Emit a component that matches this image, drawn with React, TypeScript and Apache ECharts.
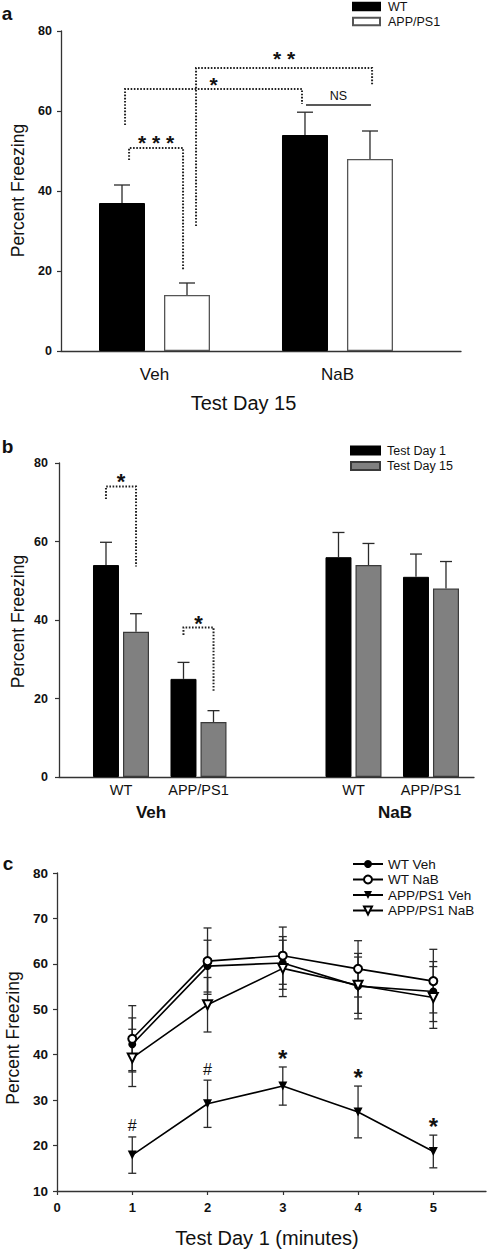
import React, { useEffect, useRef } from 'react';
import * as echarts from 'echarts';

// ---------- Panel a : Test Day 15 ----------
const A_CATEGORIES = ['Veh', 'NaB'];
const A_POS = [0, 1];
const A_WT = [37, 54];
const A_WT_ERR = [4.5, 5.7];
const A_APP = [14, 48];
const A_APP_ERR = [3, 7];
// [xLeft, yLeftStart, yTop, xRight, yRightEnd, labelY, dotted]
const A_BRACKETS = [
  [-0.139, 47.75, 50.75, 0.156, 20.25, 53.25, 1],
  [-0.161, 56.5, 65.5, 0.806, 61.75, 67.75, 1],
  [0.227, 31.25, 70.75, 1.189, 66.5, 74.25, 1],
  [0.828, 61.5, 61.5, 1.183, 61.5, 63.75, 0],
];
const A_BRACKET_LABELS = ['* * *', '*', '* *', 'NS'];

// ---------- Panel b : Test Day 1 vs Test Day 15 ----------
const B_GROUPS = ['WT', 'APP/PS1', 'WT', 'APP/PS1'];
const B_POS = [0, 1, 3, 4];
const B_DAY1 = [54, 25, 56, 51];
const B_DAY1_ERR = [5.8, 4.2, 6.3, 5.8];
const B_DAY15 = [37, 14, 54, 48];
const B_DAY15_ERR = [4.6, 2.9, 5.5, 6.9];
const B_TREATMENTS = ['Veh', 'NaB'];
const B_BRACKETS = [
  [-0.194, 70.8, 74.0, 0.194, 53.6, 76.7, 1],
  [0.806, 36.2, 38.1, 1.194, 21.7, 40.5, 1],
];
const B_BRACKET_LABELS = ['*', '*'];

// ---------- Panel c : Test Day 1 time course ----------
const C_MINUTES = [1, 2, 3, 4, 5];
const C_X_TICKS = [0, 1, 2, 3, 4, 5];
const C_WT_VEH = [42.3, 59.5, 60.2, 55.1, 53.9];
const C_WT_VEH_ERR = [5.8, 5.7, 5.8, 7.2, 6.6];
const C_WT_NAB = [43.5, 60.6, 61.8, 58.9, 56.2];
const C_WT_NAB_ERR = [7.3, 7.3, 6.3, 6.2, 7.0];
const C_APP_VEH = [17.9, 29.2, 33.1, 27.4, 18.7];
const C_APP_VEH_ERR = [4.0, 5.2, 4.2, 5.7, 3.6];
const C_APP_NAB = [39.3, 51.0, 59.0, 55.3, 52.6];
const C_APP_NAB_ERR = [6.3, 6.0, 6.2, 6.2, 6.8];
const C_APP_VEH_MARKS = ['#', '#', '*', '*', '*'];

const FONT = 'Liberation Sans, Arial, Helvetica, sans-serif';
const AXIS_COLOR = '#333';
const INK = '#111';

function errorBars(offsetPx: number, capW: number, both: boolean) {
  return (params: any, api: any) => {
    const x = api.value(0);
    const y = api.value(1);
    const e = api.value(2);
    const top = api.coord([x, y + e]);
    const mid = api.coord([x, y]);
    const bot = api.coord([x, y - e]);
    const cx = mid[0] + offsetPx;
    const style = { stroke: '#2a2a2a', lineWidth: 1.3 };
    const children: any[] = [
      { type: 'line', shape: { x1: cx, y1: top[1], x2: cx, y2: both ? bot[1] : mid[1] }, style },
      { type: 'line', shape: { x1: cx - capW / 2, y1: top[1], x2: cx + capW / 2, y2: top[1] }, style },
    ];
    if (both) {
      children.push({ type: 'line', shape: { x1: cx - capW / 2, y1: bot[1], x2: cx + capW / 2, y2: bot[1] }, style });
    }
    return { type: 'group', children };
  };
}

function brackets(labels: string[], starSize: number, textSize: number) {
  return (params: any, api: any) => {
    const xl = api.value(0);
    const yl = api.value(1);
    const yt = api.value(2);
    const xr = api.value(3);
    const yr = api.value(4);
    const ly = api.value(5);
    const dotted = api.value(6) === 1;
    const p1 = api.coord([xl, yl]);
    const p2 = api.coord([xl, yt]);
    const p3 = api.coord([xr, yt]);
    const p4 = api.coord([xr, yr]);
    const lp = api.coord([(xl + xr) / 2, ly]);
    const label = labels[params.dataIndex];
    const isStar = label.indexOf('*') >= 0;
    const fs = isStar ? starSize : textSize;
    return {
      type: 'group',
      children: [
        {
          type: 'polyline',
          shape: { points: [p1, p2, p3, p4] },
          style: {
            stroke: '#222',
            fill: 'none',
            lineWidth: dotted ? 2 : 1.3,
            lineDash: dotted ? [1.6, 1.6] : null,
          },
        },
        {
          type: 'text',
          x: lp[0],
          y: lp[1] + (isStar ? fs * 0.23 : 0),
          style: {
            text: label,
            fontSize: fs,
            fontFamily: FONT,
            fontWeight: isStar ? 'bold' : 'normal',
            fill: INK,
            align: 'center',
            verticalAlign: 'middle',
          },
        },
      ],
    };
  };
}

function annotations(params: any, api: any) {
  const p = api.coord([api.value(0), api.value(1)]);
  const mark = C_APP_VEH_MARKS[params.dataIndex];
  const isStar = mark === '*';
  const fs = isStar ? 24 : 16;
  const gap = isStar ? 14.5 : 11;
  return {
    type: 'text',
    x: p[0],
    y: p[1] - gap + (isStar ? fs * 0.23 : 0),
    style: {
      text: mark,
      fontSize: fs,
      fontFamily: FONT,
      fontWeight: isStar ? 'bold' : 'normal',
      fill: INK,
      align: 'center',
      verticalAlign: 'middle',
    },
  };
}

const axisLine = { show: true, onZero: false, lineStyle: { color: AXIS_COLOR, width: 1.3 } };

function yAxisFor(gridIndex: number, min: number, max: number, interval: number, fontSize: number, margin: number) {
  return {
    type: 'value',
    gridIndex,
    min,
    max,
    interval,
    axisLine,
    axisTick: { show: true, inside: false, length: 4, lineStyle: { color: AXIS_COLOR, width: 1.2 } },
    axisLabel: { fontSize, color: INK, fontFamily: FONT, fontWeight: 'bold', margin },
    splitLine: { show: false },
  };
}

function buildOption() {
  const labelText = (text: string, x: number, y: number, size: number, bold = false, rotate = false) => ({
    type: 'text',
    x,
    y,
    rotation: rotate ? Math.PI / 2 : 0,
    style: {
      text,
      fontSize: size,
      fontFamily: FONT,
      fontWeight: bold ? 'bold' : 'normal',
      fill: INK,
      align: 'center',
      verticalAlign: 'middle',
    },
  });

  return {
    animation: false,
    backgroundColor: '#fff',
    textStyle: { fontFamily: FONT },
    grid: [
      { left: 61, top: 31, width: 400, height: 320 },
      { left: 59, top: 463, width: 415, height: 314 },
      { left: 57, top: 873, width: 429, height: 318 },
    ],
    xAxis: [
      {
        type: 'value',
        gridIndex: 0,
        min: -0.511,
        max: 1.675,
        axisLine,
        axisTick: { show: false },
        splitLine: { show: false },
        axisLabel: {
          customValues: A_POS,
          formatter: (v: number) => A_CATEGORIES[A_POS.indexOf(v)] ?? '',
          fontSize: 17,
          color: INK,
          fontFamily: FONT,
          margin: 15,
        },
      },
      {
        type: 'value',
        gridIndex: 1,
        min: -0.8,
        max: 4.555,
        axisLine,
        axisTick: { show: false },
        splitLine: { show: false },
        axisLabel: {
          customValues: B_POS,
          formatter: (v: number) => B_GROUPS[B_POS.indexOf(v)] ?? '',
          fontSize: 14.5,
          color: INK,
          fontFamily: FONT,
          margin: 5,
        },
      },
      {
        type: 'value',
        gridIndex: 2,
        min: 0,
        max: 5.7,
        interval: 1,
        axisLine,
        axisTick: { show: true, length: 4, customValues: C_X_TICKS, lineStyle: { color: AXIS_COLOR, width: 1.2 } },
        splitLine: { show: false },
        axisLabel: { customValues: C_X_TICKS, fontSize: 13, fontWeight: 'bold', color: INK, fontFamily: FONT, margin: 10 },
      },
    ],
    yAxis: [
      yAxisFor(0, 0, 80, 20, 12.5, 9),
      yAxisFor(1, 0, 80, 20, 12.5, 11),
      yAxisFor(2, 10, 80, 10, 13.5, 9),
    ],
    legend: [
      {
        left: 352,
        top: 0,
        padding: 0,
        orient: 'vertical',
        selectedMode: false,
        data: ['WT', 'APP/PS1'],
        icon: 'rect',
        itemWidth: 27,
        itemHeight: 7.5,
        itemGap: 2,
        textStyle: { fontSize: 12.5, lineHeight: 13, color: INK, fontFamily: FONT, padding: [0, 0, 0, 3] },
      },
      {
        left: 350,
        top: 444,
        padding: 0,
        orient: 'vertical',
        selectedMode: false,
        data: ['Test Day 1', 'Test Day 15'],
        icon: 'rect',
        itemWidth: 29,
        itemHeight: 8,
        itemGap: 2.5,
        textStyle: { fontSize: 12.5, lineHeight: 13, color: INK, fontFamily: FONT, padding: [0, 0, 0, 2] },
      },
      {
        left: 352,
        top: 857,
        padding: 0,
        orient: 'vertical',
        selectedMode: false,
        data: ['WT Veh', 'WT NaB', 'APP/PS1 Veh', 'APP/PS1 NaB'],
        itemWidth: 30,
        itemHeight: 10,
        itemGap: 1.5,
        textStyle: { fontSize: 13.5, lineHeight: 14, color: INK, fontFamily: FONT },
      },
    ],
    graphic: [
      labelText('a', 7, 13.5, 19, true),
      labelText('b', 7.5, 446, 19, true),
      labelText('c', 8, 863, 19, true),
      labelText('Percent Freezing', 17.5, 190.5, 17.5, false, true),
      labelText('Percent Freezing', 17.5, 621.5, 17.5, false, true),
      labelText('Percent Freezing', 13, 1038, 17.5, false, true),
      labelText('Test Day 15', 243.5, 403, 20),
      labelText(B_TREATMENTS[0], 151, 812.5, 17, true),
      labelText(B_TREATMENTS[1], 395, 812.5, 17, true),
      labelText('Test Day 1 (minutes)', 267, 1237.5, 20),
    ],
    series: [
      // panel a bars
      {
        type: 'bar',
        name: 'WT',
        xAxisIndex: 0,
        yAxisIndex: 0,
        barWidth: 46,
        barGap: '41.3%',
        data: A_POS.map((p, i) => [p, A_WT[i]]),
        itemStyle: { color: '#000', borderColor: '#000', borderWidth: 1 },
        emphasis: { disabled: true },
      },
      {
        type: 'bar',
        name: 'APP/PS1',
        xAxisIndex: 0,
        yAxisIndex: 0,
        barWidth: 46,
        barGap: '41.3%',
        data: A_POS.map((p, i) => [p, A_APP[i]]),
        itemStyle: { color: '#fff', borderColor: '#555', borderWidth: 1.3 },
        emphasis: { disabled: true },
      },
      {
        type: 'custom',
        xAxisIndex: 0,
        yAxisIndex: 0,
        z: 3,
        encode: { x: 0, y: 1 },
        data: A_POS.map((p, i) => [p, A_WT[i], A_WT_ERR[i]]),
        renderItem: errorBars(-32.5, 16, false),
      },
      {
        type: 'custom',
        xAxisIndex: 0,
        yAxisIndex: 0,
        z: 3,
        encode: { x: 0, y: 1 },
        data: A_POS.map((p, i) => [p, A_APP[i], A_APP_ERR[i]]),
        renderItem: errorBars(32.5, 16, false),
      },
      {
        type: 'custom',
        xAxisIndex: 0,
        yAxisIndex: 0,
        z: 4,
        encode: { x: 0, y: 1 },
        data: A_BRACKETS,
        renderItem: brackets(A_BRACKET_LABELS, 21, 12.5),
      },
      // panel b bars
      {
        type: 'bar',
        name: 'Test Day 1',
        xAxisIndex: 1,
        yAxisIndex: 1,
        barWidth: 26,
        barGap: '15.4%',
        data: B_POS.map((p, i) => [p, B_DAY1[i]]),
        itemStyle: { color: '#000', borderColor: '#000', borderWidth: 1 },
        emphasis: { disabled: true },
      },
      {
        type: 'bar',
        name: 'Test Day 15',
        xAxisIndex: 1,
        yAxisIndex: 1,
        barWidth: 26,
        barGap: '15.4%',
        data: B_POS.map((p, i) => [p, B_DAY15[i]]),
        itemStyle: { color: '#808080', borderColor: '#3a3a3a', borderWidth: 1.2 },
        emphasis: { disabled: true },
      },
      {
        type: 'custom',
        xAxisIndex: 1,
        yAxisIndex: 1,
        z: 3,
        encode: { x: 0, y: 1 },
        data: B_POS.map((p, i) => [p, B_DAY1[i], B_DAY1_ERR[i]]),
        renderItem: errorBars(-15, 12, false),
      },
      {
        type: 'custom',
        xAxisIndex: 1,
        yAxisIndex: 1,
        z: 3,
        encode: { x: 0, y: 1 },
        data: B_POS.map((p, i) => [p, B_DAY15[i], B_DAY15_ERR[i]]),
        renderItem: errorBars(15, 12, false),
      },
      {
        type: 'custom',
        xAxisIndex: 1,
        yAxisIndex: 1,
        z: 4,
        encode: { x: 0, y: 1 },
        data: B_BRACKETS,
        renderItem: brackets(B_BRACKET_LABELS, 22, 12.5),
      },
      // panel c error bars
      ...[
        [C_WT_VEH, C_WT_VEH_ERR],
        [C_WT_NAB, C_WT_NAB_ERR],
        [C_APP_VEH, C_APP_VEH_ERR],
        [C_APP_NAB, C_APP_NAB_ERR],
      ].map(([vals, errs]) => ({
        type: 'custom',
        xAxisIndex: 2,
        yAxisIndex: 2,
        z: 1,
        encode: { x: 0, y: 1 },
        data: C_MINUTES.map((m, i) => [m, vals[i], errs[i]]),
        renderItem: errorBars(0, 8, true),
      })),
      // panel c lines
      {
        type: 'line',
        name: 'WT Veh',
        xAxisIndex: 2,
        yAxisIndex: 2,
        z: 3,
        data: C_MINUTES.map((m, i) => [m, C_WT_VEH[i]]),
        symbol: 'circle',
        symbolSize: 8,
        lineStyle: { color: '#000', width: 1.6 },
        itemStyle: { color: '#000' },
        emphasis: { disabled: true },
      },
      {
        type: 'line',
        name: 'WT NaB',
        xAxisIndex: 2,
        yAxisIndex: 2,
        z: 3,
        data: C_MINUTES.map((m, i) => [m, C_WT_NAB[i]]),
        symbol: 'emptyCircle',
        symbolSize: 8,
        lineStyle: { color: '#000', width: 1.6 },
        itemStyle: { color: '#000', borderWidth: 1.2 },
        emphasis: { disabled: true },
      },
      {
        type: 'line',
        name: 'APP/PS1 Veh',
        xAxisIndex: 2,
        yAxisIndex: 2,
        z: 3,
        data: C_MINUTES.map((m, i) => [m, C_APP_VEH[i]]),
        symbol: 'triangle',
        symbolRotate: 180,
        symbolSize: 9,
        lineStyle: { color: '#000', width: 1.6 },
        itemStyle: { color: '#000' },
        emphasis: { disabled: true },
      },
      {
        type: 'line',
        name: 'APP/PS1 NaB',
        xAxisIndex: 2,
        yAxisIndex: 2,
        z: 3,
        data: C_MINUTES.map((m, i) => [m, C_APP_NAB[i]]),
        symbol: 'emptyTriangle',
        symbolRotate: 180,
        symbolSize: 9,
        lineStyle: { color: '#000', width: 1.6 },
        itemStyle: { color: '#000', borderWidth: 1.2 },
        emphasis: { disabled: true },
      },
      {
        type: 'custom',
        xAxisIndex: 2,
        yAxisIndex: 2,
        z: 4,
        encode: { x: 0, y: 1 },
        data: C_MINUTES.map((m, i) => [m, C_APP_VEH[i] + C_APP_VEH_ERR[i]]),
        renderItem: annotations,
      },
    ],
  };
}

export default function App() {
  const ref = useRef<HTMLDivElement>(null);
  useEffect(() => {
    if (!ref.current) return;
    const chart = echarts.init(ref.current, null, { renderer: 'svg' });
    chart.setOption(buildOption() as any);
    return () => chart.dispose();
  }, []);
  return (
    <div
      ref={ref}
      style={{ position: 'absolute', left: 0, top: 0, width: 487, height: 1252, background: '#fff' }}
    />
  );
}
